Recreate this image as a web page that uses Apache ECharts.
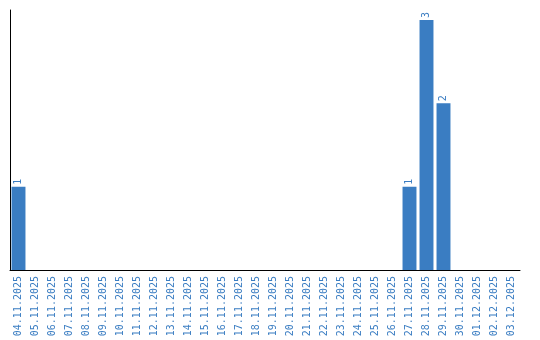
<!DOCTYPE html>
<html><head><meta charset="utf-8">
<script src="https://cdn.jsdelivr.net/npm/echarts@6/dist/echarts.min.js"></script>
<style>html,body{margin:0;padding:0;background:#fff}#c{width:540px;height:340px}</style>
</head><body><div id="c"></div>
<script>
const categories = ["04.11.2025","05.11.2025","06.11.2025","07.11.2025","08.11.2025","09.11.2025","10.11.2025","11.11.2025","12.11.2025","13.11.2025","14.11.2025","15.11.2025","16.11.2025","17.11.2025","18.11.2025","19.11.2025","20.11.2025","21.11.2025","22.11.2025","23.11.2025","24.11.2025","25.11.2025","26.11.2025","27.11.2025","28.11.2025","29.11.2025","30.11.2025","01.12.2025","02.12.2025","03.12.2025"];
const values = [1,0,0,0,0,0,0,0,0,0,0,0,0,0,0,0,0,0,0,0,0,0,0,1,3,2,0,0,0,0];
const blue = '#3a7dc2';
const chart = echarts.init(document.getElementById('c'), null, {renderer:'canvas'});
chart.setOption({
  animation:false,
  grid:{left:10, right:20, top:10, bottom:70, containLabel:false},
  xAxis:{type:'category', data:categories,
    axisLine:{lineStyle:{color:'#000', width:1}}, axisTick:{show:false},
    axisLabel:{rotate:90, interval:0, color:blue, fontFamily:'DejaVu Sans Mono', fontSize:10, margin:6}},
  yAxis:{type:'value', min:0, max:3.12, axisLine:{show:true, lineStyle:{color:'#000', width:1}},
    axisTick:{show:false}, axisLabel:{show:false}, splitLine:{show:false}},
  series:[{type:'bar', data:values, barCategoryGap:'18%', itemStyle:{color:blue},
    label:{show:true, position:'top', rotate:90, align:'left', verticalAlign:'middle', distance:2,
      color:blue, fontFamily:'DejaVu Sans Mono', fontSize:10,
      formatter:p=>p.value>0?String(p.value):''}}]
});
</script></body></html>
